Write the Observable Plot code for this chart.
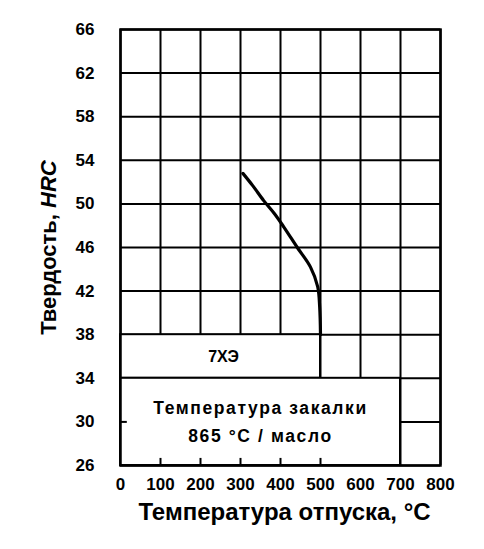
<!DOCTYPE html>
<html>
<head>
<meta charset="utf-8">
<script src="https://cdn.jsdelivr.net/npm/d3@7"></script>
<script src="https://cdn.jsdelivr.net/npm/@observablehq/plot@0.6"></script>
<style>
  html, body { margin: 0; padding: 0; background: #fff; }
  #chart { width: 484px; height: 549px; }
</style>
</head>
<body>
<div id="chart"></div>
<script>
// Tick values
const xTicks = [0, 100, 200, 300, 400, 500, 600, 700, 800];
const yTicks = [26, 30, 34, 38, 42, 46, 50, 54, 58, 62, 66];

// Curve: tempering temperature (°C) vs hardness (HRC), steel 7ХЭ
const temper = [306, 330, 358, 385, 408, 442, 475, 493, 498, 500];
const hardness = [52.8, 51.7, 50.3, 49.1, 47.9, 46.0, 44.2, 42.4, 40.5, 38.0];

// Inscription boxes inside the chart
const boxX1 = [0, 0];
const boxX2 = [500, 700];
const boxY1 = [34, 26];
const boxY2 = [38, 34];
const boxText = ["7ХЭ", "Температура закалки\n865 °C / масло"];

// small inward ticks on the frame
const innerTicksX = [100, 200, 300, 400, 500];
const innerTicksY = [30];

const xLabel = "Температура отпуска, °C";
const yLabel = "Твердость, HRC";

const curve = temper.map((t, i) => ({t, h: hardness[i]}));
const boxes = boxX1.map((x1, i) => ({
  x1, x2: boxX2[i], y1: boxY1[i], y2: boxY2[i],
  label: boxText[i], cx: (x1 + boxX2[i]) / 2, cy: (boxY1[i] + boxY2[i]) / 2
}));

const font = "'Liberation Sans', Arial, Helvetica, sans-serif";

const chart = Plot.plot({
  width: 484,
  height: 549,
  marginLeft: 120,
  marginRight: 44,
  marginTop: 29,
  marginBottom: 84,
  style: {fontFamily: font, fontWeight: "bold", fontSize: "17px", color: "#000", background: "#fff", overflow: "visible"},
  x: {domain: [0, 800], ticks: xTicks, tickSize: 0, tickPadding: 12, label: null},
  y: {domain: [26, 66], ticks: yTicks, tickSize: 0, tickPadding: 26, label: null},
  marks: [
    Plot.ruleX(xTicks, {stroke: "#000", strokeWidth: 2}),
    Plot.ruleY(yTicks, {stroke: "#000", strokeWidth: 2}),
    Plot.rect(boxes, {x1: "x1", x2: "x2", y1: "y1", y2: "y2", fill: "#fff", stroke: "#000", strokeWidth: 2}),
    Plot.ruleX(innerTicksX, {y1: 26, y2: 26.65, stroke: "#000", strokeWidth: 2}),
    Plot.ruleY(innerTicksY, {x1: 0, x2: 17, stroke: "#000", strokeWidth: 2}),
    Plot.frame({stroke: "#000", strokeWidth: 2.5}),
    Plot.line(curve, {x: "t", y: "h", curve: "catmull-rom", stroke: "#000", strokeWidth: 3.2}),
    Plot.text(boxes.slice(0, 1), {x: "cx", y: "cy", text: "label", dx: 3, fontSize: 16, fontWeight: "bold", fill: "#000"}),
    Plot.text(boxes.slice(1), {x: "cx", y: "cy", text: "label", dy: -3, fontSize: 17.5, fontWeight: "bold", lineHeight: 1.6, fill: "#000"}),
    Plot.text([xLabel], {frameAnchor: "bottom", textAnchor: "middle", lineAnchor: "middle", dy: 47, dx: 4, fontSize: 24, fontWeight: "bold", fill: "#000"}),
    Plot.text([yLabel], {frameAnchor: "left", textAnchor: "middle", lineAnchor: "middle", dx: -72, rotate: -90, fontSize: 22, fontWeight: "bold", fill: "#000"})
  ]
});

d3.select(chart).selectAll("text").each(function () {
  const el = d3.select(this);
  const t = el.text();
  // make "HRC" italic in the y label
  if (t === yLabel) {
    const target = el.select("tspan").empty() ? el : el.select("tspan");
    target.text("");
    target.append("tspan").text("Твердость, ");
    target.append("tspan").attr("font-style", "italic").text("HRC");
  }
  // wide letter spacing of the quench inscription
  if (t.includes("закалки")) el.style("letter-spacing", "1.6px");
});

document.getElementById("chart").appendChild(chart);
</script>
</body>
</html>
